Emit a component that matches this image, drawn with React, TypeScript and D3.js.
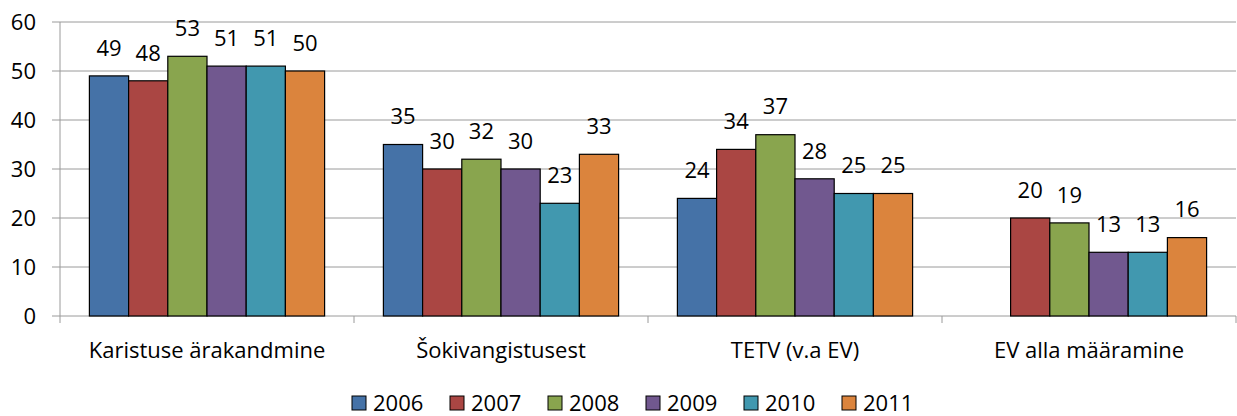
import React from "react";
import * as d3 from "d3";

const categories = ["Karistuse ärakandmine", "Šokivangistusest", "TETV (v.a EV)", "EV alla määramine"];
const years = ["2006", "2007", "2008", "2009", "2010", "2011"];
const colors = ["#4572A7", "#AA4643", "#89A54E", "#71588F", "#4198AF", "#DB843D"];
const v2006 = [49, 35, 24, null];
const v2007 = [48, 30, 34, 20];
const v2008 = [53, 32, 37, 19];
const v2009 = [51, 30, 28, 13];
const v2010 = [51, 23, 25, 13];
const v2011 = [50, 33, 25, 16];
const series = [v2006, v2007, v2008, v2009, v2010, v2011];
const yTicks = [0, 10, 20, 30, 40, 50, 60];

export default function App() {
  const width = 1237;
  const height = 416;
  const left = 60;
  const right = 1236;
  const top = 22;
  const bottom = 316;
  const font = "'Open Sans', sans-serif";
  const fs = 22;

  const x0 = d3.scaleBand().domain(categories).range([left, right]).paddingInner(0.2).paddingOuter(0.1);
  const x1 = d3.scaleBand().domain(years).range([0, x0.bandwidth()]);
  const y = d3.scaleLinear().domain([0, 60]).range([bottom, top]);
  const step = x0.step();

  return (
    <div style={{ position: "absolute", left: 0, top: 0 }}>
      <svg width={width} height={height} style={{ display: "block", background: "#fff" }}>
        {yTicks.map((t) => (
          <g key={t}>
            <line x1={left - 8} x2={right} y1={y(t)} y2={y(t)} stroke="#9a9a9a" strokeWidth={1} />
            <text x={left - 24} y={y(t)} dy="0.35em" textAnchor="end" fontFamily={font} fontSize={fs} fill="#000">
              {t}
            </text>
          </g>
        ))}
        <line x1={left} x2={left} y1={top} y2={bottom} stroke="#9a9a9a" />
        {d3.range(categories.length + 1).map((i) => (
          <line key={i} x1={left + i * step} x2={left + i * step} y1={bottom} y2={bottom + 7} stroke="#9a9a9a" />
        ))}
        {categories.map((c, ci) => (
          <g key={c} transform={`translate(${x0(c)},0)`}>
            {series.map((s, si) => {
              const v = s[ci];
              if (v == null) return null;
              const bx = x1(years[si])!;
              return (
                <g key={si}>
                  <rect x={bx} y={y(v)} width={x1.bandwidth()} height={bottom - y(v)} fill={colors[si]} stroke="#000" strokeWidth={1.2} />
                  <text x={bx + x1.bandwidth() / 2} y={y(v) - 28} dy="0.35em" textAnchor="middle" fontFamily={font} fontSize={fs} fill="#000">
                    {v}
                  </text>
                </g>
              );
            })}
            <text x={x0.bandwidth() / 2} y={350} dy="0.35em" textAnchor="middle" fontFamily={font} fontSize={fs} fill="#000">
              {c}
            </text>
          </g>
        ))}
        {years.map((yr, i) => (
          <g key={yr} transform={`translate(${352 + i * 98},403)`}>
            <rect x={0} y={-7} width={14} height={14} fill={colors[i]} stroke="#000" strokeWidth={1} />
            <text x={21} y={0} dy="0.35em" fontFamily={font} fontSize={fs} fill="#000">
              {yr}
            </text>
          </g>
        ))}
      </svg>
    </div>
  );
}
